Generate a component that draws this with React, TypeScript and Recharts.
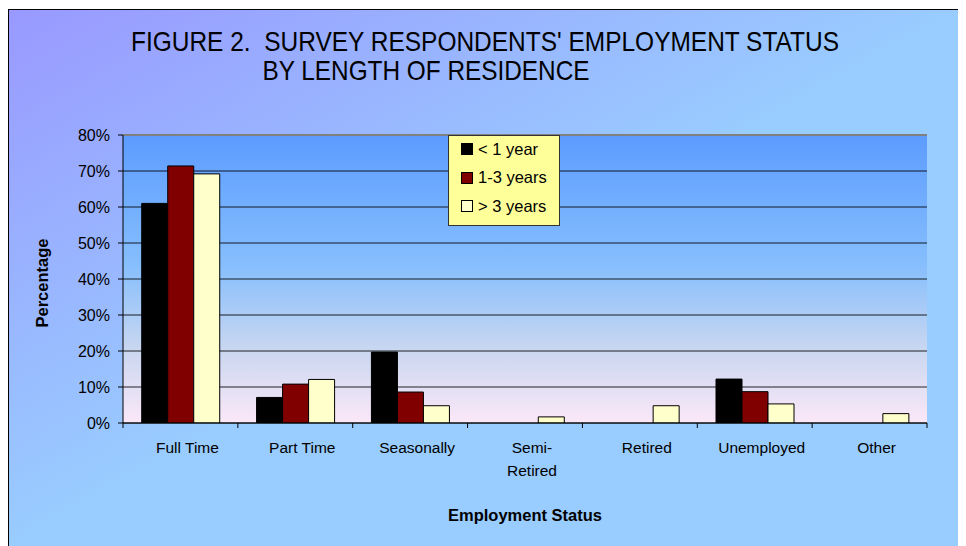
import React from 'react';
import {
  BarChart,
  Bar,
  XAxis,
  YAxis,
  CartesianGrid,
  Legend,
  ReferenceLine,
} from 'recharts';

// Employment status categories (x axis)
const categories = [
  'Full Time',
  'Part Time',
  'Seasonally',
  'Semi-Retired',
  'Retired',
  'Unemployed',
  'Other',
];

// Percent of respondents in each status, by length of residence
const underOneYear = [61.0, 7.1, 19.7, 0, 0, 12.2, 0];
const oneToThreeYears = [71.4, 10.8, 8.6, 0, 0, 8.7, 0];
const overThreeYears = [69.2, 12.1, 4.8, 1.7, 4.8, 5.3, 2.6];

const seriesNames = ['< 1 year', '1-3 years', '> 3 years'];
const seriesColors = ['#000000', '#800000', '#FFFFCC'];

const yTicks = [0, 10, 20, 30, 40, 50, 60, 70, 80];

const data = categories.map((status, i) => ({
  status,
  lt1: underOneYear[i],
  y13: oneToThreeYears[i],
  gt3: overThreeYears[i],
}));

const FONT = '"Liberation Sans", Arial, Helvetica, sans-serif';

const StatusTick = (props: any) => {
  const { x, y, payload, index, visibleTicksCount } = props;
  const half = payload && typeof payload.offset === 'number' ? payload.offset : 0;
  const value: string = payload.value;
  const lines = value.includes('-')
    ? [value.slice(0, value.indexOf('-') + 1), value.slice(value.indexOf('-') + 1)]
    : [value];
  const isLast = index === (visibleTicksCount ?? categories.length) - 1;
  return (
    <g>
      <line x1={x - half} x2={x - half} y1={y} y2={y + 5} stroke="#000" />
      {isLast && <line x1={x + half} x2={x + half} y1={y} y2={y + 5} stroke="#000" />}
      <text
        x={x + 7}
        y={y + 29.5}
        textAnchor="middle"
        fontFamily={FONT}
        fontSize={15.5}
        fill="#000"
      >
        {lines.map((line, k) => (
          <tspan key={k} x={x + 7} dy={k === 0 ? 0 : 23}>
            {line}
          </tspan>
        ))}
      </text>
    </g>
  );
};

const YTitle = (props: any) => {
  const vb = props.viewBox || {};
  const cx = vb.x + 33;
  const cy = vb.y + vb.height / 2 + 4;
  return (
    <text
      x={cx}
      y={cy}
      transform={`rotate(-90 ${cx} ${cy})`}
      textAnchor="middle"
      dominantBaseline="central"
      fontFamily={FONT}
      fontWeight="bold"
      fontSize={16.5}
      fill="#000"
    >
      Percentage
    </text>
  );
};

const XTitle = (props: any) => {
  const vb = props.viewBox || {};
  return (
    <text
      x={vb.x + vb.width / 2}
      y={vb.y + 98}
      textAnchor="middle"
      fontFamily={FONT}
      fontWeight="bold"
      fontSize={16.5}
      fill="#000"
    >
      Employment Status
    </text>
  );
};

const LegendBox = (props: any) => {
  const payload = [...(props.payload || [])].sort(
    (a: any, b: any) => seriesNames.indexOf(a.value) - seriesNames.indexOf(b.value)
  );
  return (
    <div
      style={{
        width: 110,
        height: 89,
        background: '#FFFF99',
        border: '1px solid #333',
        boxSizing: 'content-box',
        fontFamily: FONT,
        fontSize: 16.5,
        color: '#000',
      }}
    >
      <div style={{ marginTop: -1 }}>
        {payload.map((entry: any, i: number) => (
          <div
            key={i}
            style={{
              display: 'flex',
              alignItems: 'center',
              height: 28.5,
              paddingLeft: 12,
            }}
          >
            <span
              style={{
                display: 'inline-block',
                width: 10,
                height: 10,
                background: entry.color,
                border: '1px solid #000',
                marginRight: 5,
              }}
            />
            <span>{entry.value}</span>
          </div>
        ))}
      </div>
    </div>
  );
};

export default function App() {
  return (
    <div style={{ position: 'relative', paddingTop: 1 }}>
      <style>{'html, body { overflow: hidden; }'}</style>
      <div
        style={{
          position: 'absolute',
          left: -8,
          top: -8,
          width: 1,
          height: 546,
          background: '#2F3B3B',
        }}
      />
      <svg width={0} height={0} style={{ position: 'absolute' }}>
        <defs>
          <linearGradient id="plotFill" x1="0" y1="0" x2="0" y2="1">
            <stop offset="0%" stopColor="#5C9CFF" />
            <stop offset="45%" stopColor="#86BEFD" />
            <stop offset="75%" stopColor="#CAD7F0" />
            <stop offset="100%" stopColor="#FBE8F8" />
          </linearGradient>
        </defs>
      </svg>
      <div
        style={{
          position: 'relative',
          width: 954,
          height: 536,
          border: '1px solid #000',
          background: 'linear-gradient(to bottom right, #9999FF 0%, #99CCFF 50%, #99CCFF 100%)',
        }}
      >
        <svg
          width={954}
          height={100}
          style={{ position: 'absolute', left: 0, top: 0, pointerEvents: 'none' }}
        >
          <text
            x={122}
            y={41}
            fontFamily={FONT}
            fontSize={28}
            textLength={708}
            lengthAdjust="spacingAndGlyphs"
            fill="#000"
            style={{ whiteSpace: 'pre' }}
          >
            FIGURE 2.  SURVEY RESPONDENTS' EMPLOYMENT STATUS
          </text>
          <text
            x={253.5}
            y={70}
            fontFamily={FONT}
            fontSize={28}
            textLength={327}
            lengthAdjust="spacingAndGlyphs"
            fill="#000"
          >
            BY LENGTH OF RESIDENCE
          </text>
        </svg>
        <BarChart
          width={954}
          height={536}
          data={data}
          margin={{ top: 125, right: 36, bottom: 0, left: 0 }}
          barCategoryGap="16.3%"
          barGap={0}
        >
          <CartesianGrid
            vertical={false}
            stroke="#000"
            strokeOpacity={0.85}
            fill="url(#plotFill)"
            fillOpacity={1}
          />
          <XAxis
            dataKey="status"
            height={123}
            axisLine={{ stroke: '#000' }}
            tickLine={false}
            tickSize={0}
            tickMargin={0}
            interval={0}
            tick={<StatusTick />}
            label={XTitle}
          />
          <YAxis
            width={114}
            domain={[0, 80]}
            ticks={yTicks}
            allowDataOverflow
            axisLine={{ stroke: '#000' }}
            tickLine={{ stroke: '#000' }}
            tickSize={5}
            tickMargin={8}
            tickFormatter={(v: number) => `${v}%`}
            tick={{ fontFamily: FONT, fontSize: 16, fill: '#000' }}
            label={YTitle}
          />
          <YAxis
            yAxisId="frame"
            orientation="right"
            width={0}
            domain={[0, 80]}
            ticks={yTicks}
            tick={false}
            tickLine={false}
            axisLine={{ stroke: '#808080', strokeWidth: 2 }}
          />
          <ReferenceLine y={80} stroke="#808080" strokeWidth={2} />
          <Legend
            layout="horizontal"
            verticalAlign="middle"
            align="center"
            content={LegendBox}
            wrapperStyle={{ position: 'absolute', left: 439, top: 125, width: 112 }}
          />
          <Bar
            dataKey="lt1"
            name={seriesNames[0]}
            fill={seriesColors[0]}
            stroke="#000"
            strokeWidth={1}
            isAnimationActive={false}
          />
          <Bar
            dataKey="y13"
            name={seriesNames[1]}
            fill={seriesColors[1]}
            stroke="#000"
            strokeWidth={1}
            isAnimationActive={false}
          />
          <Bar
            dataKey="gt3"
            name={seriesNames[2]}
            fill={seriesColors[2]}
            stroke="#000"
            strokeWidth={1}
            isAnimationActive={false}
          />
        </BarChart>
      </div>
    </div>
  );
}
